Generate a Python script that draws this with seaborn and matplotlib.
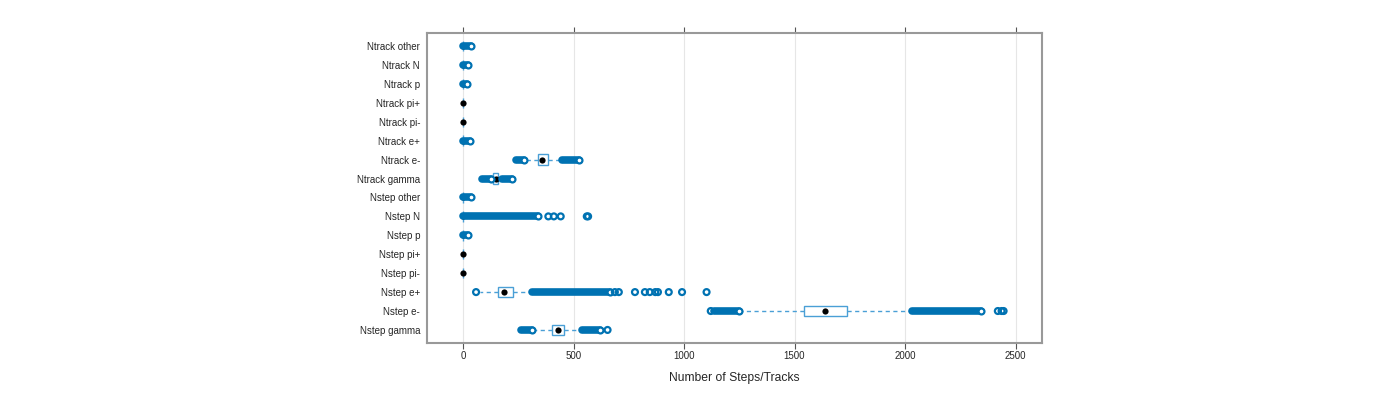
import numpy as np
import pandas as pd
import matplotlib
matplotlib.use("Agg")
import matplotlib.pyplot as plt
import seaborn as sns

# Rows, bottom to top
labels = ['Nstep gamma', 'Nstep e-', 'Nstep e+', 'Nstep pi-', 'Nstep pi+', 'Nstep p',
          'Nstep N', 'Nstep other', 'Ntrack gamma', 'Ntrack e-', 'Ntrack e+',
          'Ntrack pi-', 'Ntrack pi+', 'Ntrack p', 'Ntrack N', 'Ntrack other']

# box statistics (estimated)
q1 = [401, 1543, 160, 0, 0, 0, 0, 0, 137, 340, 0, 0, 0, 0, 0, 0]
med = [428, 1637, 187, 0, 0, 0, 0, 0, 148, 358, 0, 0, 0, 0, 0, 0]
q3 = [457, 1737, 225, 0, 0, 0, 0, 0, 157, 386, 0, 0, 0, 0, 0, 0]
whis_lo = [317, 1257, 78, 0, 0, 0, 0, 0, 130, 280, 0, 0, 0, 0, 0, 0]
whis_hi = [537, 2028, 306, 0, 0, 0, 0, 0, 172, 443, 0, 0, 0, 0, 0, 0]

# dense runs of outliers (drawn as a solid band)
band_row = ['Nstep gamma', 'Nstep gamma', 'Nstep e-', 'Nstep e-', 'Nstep e+',
            'Nstep p', 'Nstep N', 'Nstep other', 'Ntrack gamma', 'Ntrack gamma',
            'Ntrack e-', 'Ntrack e-', 'Ntrack e+', 'Ntrack p', 'Ntrack N', 'Ntrack other']
band_lo = [262, 540, 1135, 2032, 310, 2, 2, 2, 84, 175, 238, 446, 2, 2, 2, 2]
band_hi = [314, 622, 1250, 2345, 664, 22, 340, 36, 127, 220, 277, 526, 30, 17, 23, 38]

# single outliers
out_row = ['Nstep gamma', 'Nstep e-', 'Nstep e-', 'Nstep e-', 'Nstep e-',
           'Nstep e+', 'Nstep e+', 'Nstep e+', 'Nstep e+', 'Nstep e+', 'Nstep e+',
           'Nstep e+', 'Nstep e+', 'Nstep e+', 'Nstep e+', 'Nstep e+',
           'Nstep N', 'Nstep N', 'Nstep N', 'Nstep N', 'Nstep N']
out_val = [654, 1121, 2420, 2437, 2446,
           59, 687, 705, 778, 823, 845, 870, 882, 931, 991, 1102,
           386, 411, 442, 560, 566]

blue = '#0072B2'
box_blue = '#4a9fd6'

sns.set_theme(style='white')
plt.rcParams['font.family'] = ['Liberation Sans', 'DejaVu Sans']

pos = {lab: i + 1 for i, lab in enumerate(labels)}

fig = plt.figure(figsize=(14, 4), dpi=100)
ax = fig.add_axes([0.305, 0.1425, 0.439, 0.775])

ax.grid(axis='x', color='#e6e6e6', linewidth=0.8)
ax.set_axisbelow(True)

stats = [dict(med=med[i], q1=q1[i], q3=q3[i], whislo=whis_lo[i], whishi=whis_hi[i],
              fliers=[], label=labels[i]) for i in range(len(labels))]
ax.bxp(stats, positions=list(range(1, len(labels) + 1)), widths=0.55,
       orientation='horizontal', showcaps=False, patch_artist=True,
       boxprops=dict(facecolor='white', edgecolor=box_blue, linewidth=1.0),
       whiskerprops=dict(color=box_blue, linewidth=1.0, linestyle=(0, (3, 2.5))),
       medianprops=dict(linewidth=0))

# medians
med_df = pd.DataFrame({'value': med, 'y': [pos[l] for l in labels]})
sns.scatterplot(data=med_df, x='value', y='y', color='black', s=20,
                linewidth=0, ax=ax, zorder=4)

# outlier bands
band_df = pd.DataFrame({'row': band_row, 'lo': band_lo, 'hi': band_hi})
band_df['y'] = band_df['row'].map(pos)
ax.hlines(band_df['y'], band_df['lo'], band_df['hi'], color=blue, linewidth=5.5,
          capstyle='round', zorder=5)
sns.scatterplot(data=band_df, x='hi', y='y', marker='o', s=18, facecolor='white',
                edgecolor=blue, linewidth=1.6, ax=ax, zorder=6)

# single outliers
out_df = pd.DataFrame({'row': out_row, 'value': out_val})
out_df['y'] = out_df['row'].map(pos)
sns.scatterplot(data=out_df, x='value', y='y', marker='o', s=18, facecolor='none',
                edgecolor=blue, linewidth=1.6, ax=ax, zorder=6)

ax.set_xlim(-163, 2618)
ax.set_ylim(0.31, 16.69)
ax.set_xticks([0, 500, 1000, 1500, 2000, 2500])
ax.set_yticks(range(1, len(labels) + 1))
ax.set_yticklabels(labels)
ax.tick_params(axis='x', which='both', bottom=True, top=True, direction='out',
               length=4, width=0.8, color='#555555', labelsize=7, pad=2)
ax.tick_params(axis='y', length=0, labelsize=7, pad=5)
ax.set_xlabel('Number of Steps/Tracks', fontsize=8.7, labelpad=8)
ax.set_ylabel('')

for sp in ax.spines.values():
    sp.set_color('#999999')
    sp.set_linewidth(1.5)

fig.savefig('out.png', dpi=100)
